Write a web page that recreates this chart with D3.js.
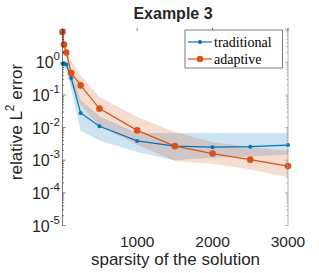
<!DOCTYPE html>
<html>
<head>
    <meta charset="utf-8">
    <style>
        body { margin: 0; background: #fff; }
        text { font-family: "Liberation Sans", Arial, Helvetica, sans-serif; fill: #262626; }
        .legend text { font-family: "Liberation Serif", "Times New Roman", serif; fill: #000; }
    </style>
</head>
<body>
    <div id="container"></div>
    <script src="https://d3js.org/d3.v7.min.js"></script>
    <script>
        // sparsity levels
        const sparsity = [10, 30, 60, 125, 250, 500, 1000, 1500, 2000, 2500, 3000];

        // traditional: mean error and band
        const tradMean = [0.92, 0.9, 0.86, 0.33, 0.028, 0.011, 0.0039, 0.0027, 0.0025, 0.0026, 0.0029];
        const tradLow = [0.7, 0.65, 0.55, 0.15, 0.008, 0.004, 0.0018, 0.001, 0.0012, 0.0013, 0.0015];
        const tradHigh = [1.2, 1.2, 1.1, 0.6, 0.07, 0.022, 0.0068, 0.0068, 0.0068, 0.0068, 0.0068];

        // adaptive: mean error and band
        const adaMean = [8.5, 3.5, 2.0, 0.47, 0.196, 0.038, 0.0082, 0.0027, 0.0016, 0.00104, 0.00066];
        const adaLow = [6.5, 2.5, 1.3, 0.2, 0.05, 0.011, 0.003, 0.00094, 0.00078, 0.00052, 0.0003];
        const adaHigh = [10, 4.5, 2.6, 1.1, 0.4, 0.087, 0.021, 0.0073, 0.0036, 0.0025, 0.0019];

        const xTicks = [1000, 2000, 3000];
        const yTicks = [-5, -4, -3, -2, -1, 0];

        const width = 319, height = 273;
        const mLeft = 62.5, mRight = 288, mTop = 28, mBottom = 225.5;

        const svg = d3.select("#container").append("svg")
            .attr("width", width)
            .attr("height", height);

        const x = d3.scaleLinear().domain([10, 3000]).range([mLeft, mRight]);
        const y = d3.scaleLog().domain([1e-5, Math.pow(10, 1.05)]).range([mBottom, mTop]);

        const blue = "#0072BD", orange = "#D95319";

        function band(lo, hi) {
            return d3.area()
                .x((d, i) => x(sparsity[i]))
                .y0((d, i) => y(lo[i]))
                .y1((d, i) => y(hi[i]))(sparsity);
        }
        const line = d3.line().x((d, i) => x(sparsity[i])).y(d => y(d));

        const plot = svg.append("g");
        plot.append("path").attr("d", band(tradLow, tradHigh)).attr("fill", blue).attr("fill-opacity", 0.2);
        plot.append("path").attr("d", band(adaLow, adaHigh)).attr("fill", orange).attr("fill-opacity", 0.2);

        plot.append("path").attr("d", line(tradMean)).attr("fill", "none").attr("stroke", blue).attr("stroke-width", 1.2);
        plot.selectAll(".tdot").data(tradMean).join("circle")
            .attr("cx", (d, i) => x(sparsity[i])).attr("cy", d => y(d)).attr("r", 2).attr("fill", blue);

        plot.append("path").attr("d", line(adaMean)).attr("fill", "none").attr("stroke", orange).attr("stroke-width", 1.2);
        plot.selectAll(".adot").data(adaMean).join("circle")
            .attr("cx", (d, i) => x(sparsity[i])).attr("cy", d => y(d)).attr("r", 3.3).attr("fill", orange);

        // axes lines
        const ax = svg.append("g").attr("stroke", "#262626").attr("stroke-width", 0.6);
        ax.append("line").attr("x1", mLeft).attr("x2", mLeft).attr("y1", mTop).attr("y2", mBottom);
        ax.append("line").attr("x1", mRight).attr("x2", mRight).attr("y1", mTop).attr("y2", mBottom).attr("stroke", "#8a8a8a");

        // y ticks (major + minor) on both sides
        yTicks.concat([1]).forEach(e => {
            for (let m = 1; m <= 9; m++) {
                const v = m * Math.pow(10, e);
                if (v < 1e-5 || v > y.domain()[1]) continue;
                const len = m === 1 ? 3 : 1.6;
                ax.append("line").attr("x1", mLeft).attr("x2", mLeft + len).attr("y1", y(v)).attr("y2", y(v));
                ax.append("line").attr("x1", mRight).attr("x2", mRight - len).attr("y1", y(v)).attr("y2", y(v)).attr("stroke", "#8a8a8a");
            }
        });
        // x ticks on top
        xTicks.forEach(t => {
            ax.append("line").attr("x1", x(t)).attr("x2", x(t)).attr("y1", mTop).attr("y2", mTop + 3);
        });

        // y tick labels
        yTicks.forEach(e => {
            const t = svg.append("text")
                .attr("x", 60).attr("y", y(Math.pow(10, e)) + 6)
                .attr("text-anchor", "end").attr("font-size", 16);
            t.append("tspan").text("10");
            t.append("tspan").attr("dy", -8).attr("font-size", 11.5).text(e === 0 ? "0" : "-" + Math.abs(e));
        });

        // x tick labels
        svg.selectAll(".xt").data(xTicks).join("text")
            .attr("x", d => x(d)).attr("y", 247)
            .attr("text-anchor", "middle").attr("font-size", 15.5)
            .text(d => d);

        // titles
        svg.append("text").attr("x", 173).attr("y", 19).attr("text-anchor", "middle")
            .attr("font-size", 16).attr("font-weight", "bold").attr("fill", "#000").text("Example 3");
        svg.append("text").attr("x", 175.5).attr("y", 265).attr("text-anchor", "middle")
            .attr("font-size", 17).text("sparsity of the solution");
        const yl = svg.append("text").attr("transform", "translate(22,122) rotate(-90)")
            .attr("text-anchor", "middle").attr("font-size", 17);
        yl.append("tspan").text("relative L");
        yl.append("tspan").attr("dy", -8).attr("font-size", 12).text("2");
        yl.append("tspan").attr("dy", 8).text(" error");

        // legend
        const lg = svg.append("g").attr("class", "legend");
        lg.append("rect").attr("x", 185).attr("y", 30).attr("width", 97.5).attr("height", 38)
            .attr("fill", "#fff").attr("stroke", "#262626").attr("stroke-width", 0.6);
        [["traditional", blue, 2, 42], ["adaptive", orange, 3.3, 59]].forEach(([name, c, r, ly]) => {
            lg.append("line").attr("x1", 188).attr("x2", 212).attr("y1", ly).attr("y2", ly)
                .attr("stroke", c).attr("stroke-width", 1.2);
            lg.append("circle").attr("cx", 200).attr("cy", ly).attr("r", r).attr("fill", c);
            lg.append("text").attr("x", 214).attr("y", ly + 4.5).attr("font-size", 14).text(name);
        });
    </script>
</body>
</html>
